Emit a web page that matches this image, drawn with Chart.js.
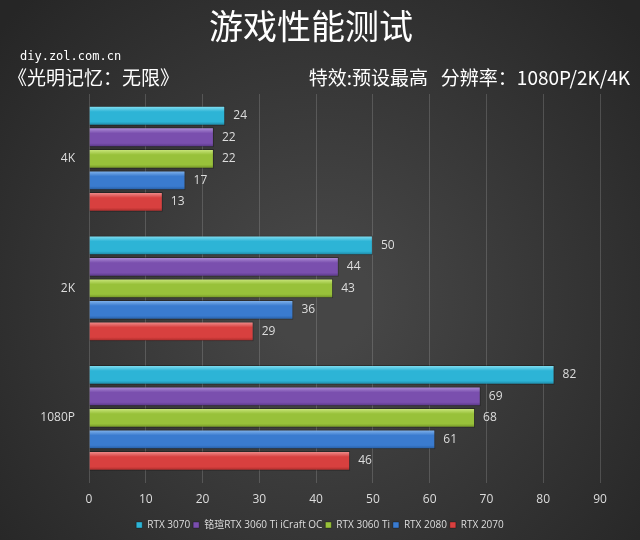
<!DOCTYPE html>
<html>
<head>
<meta charset="utf-8">
<script src="https://cdn.jsdelivr.net/npm/chart.js@4"></script>
<style>
  body { margin: 0; background: #333; }
  #wrap { width: 640px; height: 540px; }
</style>
</head>
<body>
<div id="wrap"><canvas id="myChart" width="640" height="540"></canvas></div>
<script>
const resolutions = ['4K', '2K', '1080P'];
const cardNames = ['RTX 3070', '铭瑄RTX 3060 Ti iCraft OC', 'RTX 3060 Ti', 'RTX 2080', 'RTX 2070'];
const rtx3070 = [24, 50, 82];
const rtx3060tiOC = [22, 44, 69];
const rtx3060ti = [22, 43, 68];
const rtx2080 = [17, 36, 61];
const rtx2070 = [13, 29, 46];
const xTicks = [0, 10, 20, 30, 40, 50, 60, 70, 80, 90];
const colors = ['#2db4d6', '#7a4fae', '#98c13a', '#3a7bcf', '#d8403f'];
const lightColors = ['#8ee4f5', '#b597dc', '#d2ec86', '#8dbcf0', '#f29a98'];
const darkColors = ['#1a7f9c', '#533380', '#6c8c22', '#235a9e', '#a02826'];
const titleText = '游戏性能测试';
const siteText = 'diy.zol.com.cn';
const gameText = '《光明记忆：无限》';
const settingText = '特效:预设最高   分辨率：1080P/2K/4K';

const cjk = '"Noto Sans CJK SC", "Noto Sans", sans-serif';

const bgPlugin = {
    id: 'bg',
    beforeDraw(chart){
        const ctx = chart.ctx;
        const g = ctx.createRadialGradient(320, 300, 50, 320, 300, 420);
        g.addColorStop(0, '#464646');
        g.addColorStop(1, '#262626');
        ctx.save();
        ctx.fillStyle = g;
        ctx.fillRect(0, 0, chart.width, chart.height);
        ctx.restore();
    }
};

// shift legend so it is centred on the whole canvas, and give bars a shaded look
const layoutPlugin = {
    id: 'tweaks',
    afterLayout(chart){
        const lg = chart.legend;
        lg.left += 20;
        lg.right += 20;
    },
    beforeDatasetsDraw(chart){
        const ctx = chart.ctx;
        chart.data.datasets.forEach((ds, i) => {
            chart.getDatasetMeta(i).data.forEach(bar => {
                const top = bar.y - bar.height / 2;
                const bottom = bar.y + bar.height / 2;
                const g = ctx.createLinearGradient(0, top, 0, bottom);
                g.addColorStop(0, lightColors[i]);
                g.addColorStop(0.3, colors[i]);
                g.addColorStop(0.8, colors[i]);
                g.addColorStop(1, darkColors[i]);
                bar.options = Object.assign({}, bar.options, { backgroundColor: g });
            });
        });
    }
};

const textPlugin = {
    id: 'texts',
    afterDraw(chart){
        const ctx = chart.ctx;
        ctx.save();
        ctx.fillStyle = '#ffffff';
        ctx.textBaseline = 'middle';
        ctx.font = '34px ' + cjk;
        ctx.textAlign = 'center';
        ctx.fillText(titleText, 311, 26);
        ctx.font = '12px "DejaVu Sans Mono", monospace';
        ctx.textAlign = 'left';
        ctx.fillText(siteText, 20, 57);
        ctx.font = '19px ' + cjk;
        ctx.fillText(gameText, 8, 78);
        ctx.textAlign = 'right';
        ctx.fillText(settingText, 630, 78);

        // value labels
        ctx.font = '12px "Open Sans", sans-serif';
        ctx.fillStyle = '#dddddd';
        ctx.textAlign = 'left';
        chart.data.datasets.forEach((ds, i) => {
            const meta = chart.getDatasetMeta(i);
            meta.data.forEach((bar, j) => {
                ctx.fillText(ds.data[j], bar.x + 8, bar.y);
            });
        });
        ctx.restore();
    }
};

function makeDataset(label, data, color){
    return {
        label: label,
        data: data,
        backgroundColor: color,
        borderColor: 'rgba(0,0,0,0.3)',
        borderWidth: 1,
        categoryPercentage: 0.83,
        barPercentage: 0.92
    };
}

new Chart('myChart', {
    type: 'bar',
    data: {
        labels: resolutions,
        datasets: [
            makeDataset(cardNames[0], rtx3070, colors[0]),
            makeDataset(cardNames[1], rtx3060tiOC, colors[1]),
            makeDataset(cardNames[2], rtx3060ti, colors[2]),
            makeDataset(cardNames[3], rtx2080, colors[3]),
            makeDataset(cardNames[4], rtx2070, colors[4])
        ]
    },
    options: {
        indexAxis: 'y',
        responsive: false,
        animation: false,
        layout: {
            padding: { top: 94, right: 40, left: 0, bottom: 0 }
        },
        scales: {
            x: {
                min: 0,
                max: 90,
                afterBuildTicks(axis){
                    axis.ticks = xTicks.map(v => ({ value: v }));
                },
                grid: { color: 'rgba(200,200,200,0.22)', drawTicks: false },
                border: { display: false },
                ticks: { color: '#dddddd', padding: 10, font: { size: 12, family: '"Open Sans", sans-serif' } }
            },
            y: {
                afterFit(axis){ axis.width = 89; },
                grid: { display: false },
                border: { display: false },
                ticks: { color: '#dddddd', padding: 6, font: { size: 12, family: '"Open Sans", sans-serif' } }
            }
        },
        plugins: {
            legend: {
                position: 'bottom',
                labels: {
                    color: '#dddddd',
                    boxWidth: 6,
                    boxHeight: 6,
                    padding: 3,
                    font: { size: 10, family: '"Open Sans", ' + cjk }
                }
            },
            tooltip: { enabled: false }
        }
    },
    plugins: [bgPlugin, layoutPlugin, textPlugin]
});
</script>
</body>
</html>
